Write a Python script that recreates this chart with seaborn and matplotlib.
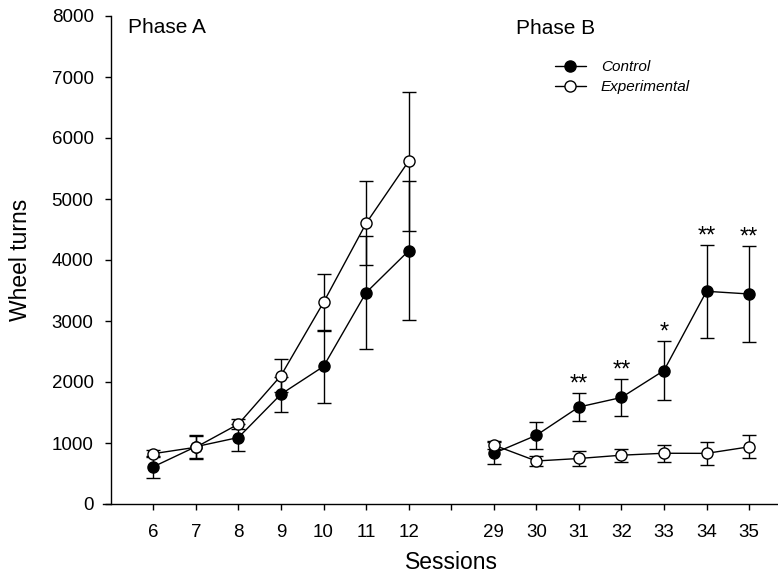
import matplotlib
matplotlib.use("Agg")
import matplotlib.pyplot as plt
import numpy as np
import pandas as pd
import seaborn as sns
from matplotlib.lines import Line2D

# ---------------- data ----------------
sessions_a = [6, 7, 8, 9, 10, 11, 12]
sessions_b = [29, 30, 31, 32, 33, 34, 35]

control_mean_a = [610, 940, 1090, 1800, 2255, 3465, 4150]
control_err_a = [180, 195, 220, 285, 600, 925, 1137]
exp_mean_a = [825, 930, 1310, 2105, 3305, 4600, 5620]
exp_err_a = [60, 180, 80, 265, 465, 690, 1140]

control_mean_b = [830, 1126, 1590, 1746, 2188, 3487, 3443]
control_err_b = [180, 224, 235, 298, 484, 760, 787]
exp_mean_b = [967, 705, 746, 800, 832, 830, 937]
exp_err_b = [70, 80, 123, 108, 140, 191, 188]

sig_sessions = [31, 32, 33, 34, 35]
sig_labels = ["**", "**", "*", "**", "**"]

groups = ["Control", "Experimental"]
phase_labels = ["Phase A", "Phase B"]

# ---------------- table ----------------
pos_a = list(range(len(sessions_a)))
pos_b = list(range(len(sessions_a) + 1, len(sessions_a) + 1 + len(sessions_b)))
session_to_pos = dict(zip(sessions_a + sessions_b, pos_a + pos_b))

rows = []
for g, ma, ea, mb, eb in [("Control", control_mean_a, control_err_a, control_mean_b, control_err_b),
                          ("Experimental", exp_mean_a, exp_err_a, exp_mean_b, exp_err_b)]:
    for s, m, e in zip(sessions_a, ma, ea):
        rows.append(dict(group=g, phase="A", session=s, pos=session_to_pos[s], mean=m, err=e))
    for s, m, e in zip(sessions_b, mb, eb):
        rows.append(dict(group=g, phase="B", session=s, pos=session_to_pos[s], mean=m, err=e))
df = pd.DataFrame(rows)

# ---------------- style ----------------
sns.set_style("ticks")
plt.rcParams["font.family"] = ["Liberation Sans", "DejaVu Sans"]
plt.rcParams.update({
    "axes.linewidth": 1.0,
    "axes.edgecolor": "black",
    "axes.labelcolor": "black",
    "text.color": "black",
    "xtick.color": "black",
    "ytick.color": "black",
})

W, H = 778, 573
fig = plt.figure(figsize=(W / 100, H / 100), dpi=100)
ax = fig.add_axes([103 / W, 1 - 504 / H, (W - 103) / W, (504 - 16) / H])

face = {"Control": "black", "Experimental": "white"}

for g in groups:
    sub = df[df["group"] == g]
    ax.errorbar(sub["pos"], sub["mean"], yerr=sub["err"], fmt="none",
                ecolor="black", elinewidth=1.0, capsize=4.7, capthick=1.0, zorder=2)

for g in groups:
    sub = df[df["group"] == g]
    sns.lineplot(data=sub, x="pos", y="mean", units="phase", estimator=None,
                 color="black", lw=1.0, marker="o", markersize=8,
                 markerfacecolor=face[g], markeredgecolor="black", markeredgewidth=1.0,
                 ax=ax, legend=False, zorder=3)

# significance marks
ctrl = df[(df["group"] == "Control")].set_index("session")
for s, lab in zip(sig_sessions, sig_labels):
    top = ctrl.loc[s, "mean"] + ctrl.loc[s, "err"]
    ax.text(session_to_pos[s], top + 40, lab, ha="center", va="baseline", fontsize=17)

# phase labels
ax.text(-0.595, 7720, phase_labels[0], ha="left", va="baseline", fontsize=15)
ax.text(8.52, 7705, phase_labels[1], ha="left", va="baseline", fontsize=15)

# axes
ax.set_xlim(-1.182, 14.68)
ax.set_ylim(0, 8000)
ax.set_yticks(np.arange(0, 8001, 1000))
ax.set_xticks(list(range(len(sessions_a) + 1 + len(sessions_b))))
ax.set_xticklabels([str(s) for s in sessions_a] + [""] + [str(s) for s in sessions_b])
sns.despine(ax=ax)
ax.spines["left"].set_position(("data", -1.0))
ax.spines["left"].set_bounds(0, 8000)
ax.tick_params(axis="both", direction="out", length=4.3, width=1.0, color="black",
               labelsize=13.5, labelcolor="black")
ax.tick_params(axis="x", pad=10)
ax.tick_params(axis="y", pad=8)

ax.set_xlabel("Sessions", fontsize=16.5)
ax.set_ylabel("Wheel turns", fontsize=16.5)
ax.xaxis.set_label_coords((451 - 103) / (W - 103), (504 - 551) / 488)
ax.yaxis.set_label_coords((32 - 103) / (W - 103), 0.5)

handles = [Line2D([], [], color="black", lw=1.0, marker="o", markersize=8,
                  markerfacecolor=face[g], markeredgecolor="black", markeredgewidth=1.0)
           for g in groups]
leg = ax.legend(handles, groups, loc="upper left",
                bbox_to_anchor=(555 / W, 1 - 60 / H), bbox_transform=fig.transFigure,
                frameon=False, borderpad=0, borderaxespad=0, handlelength=2.0,
                handletextpad=1.0, labelspacing=0.42,
                prop={"style": "italic", "size": 11})

fig.savefig("out.png", dpi=100)
